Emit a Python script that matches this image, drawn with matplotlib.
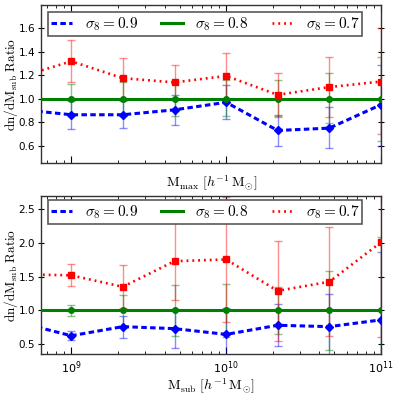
import numpy as np
import matplotlib
matplotlib.use("Agg")
import matplotlib.pyplot as plt
from matplotlib.ticker import LogLocator, NullFormatter, FixedLocator

plt.rcParams['mathtext.fontset'] = 'cm'
plt.rcParams['font.family'] = 'DejaVu Sans'

# mass bins [h^-1 Msun]
mass = [4.64e8, 1e9, 2.15e9, 4.64e9, 1e10, 2.15e10, 4.64e10, 1e11]

# ---- top panel: Mmax ----
top_s09 = [0.91, 0.864, 0.864, 0.906, 0.97, 0.73, 0.75, 0.95]
top_s09_lo = [0.80, 0.745, 0.75, 0.776, 0.83, 0.60, 0.58, 0.60]
top_s09_hi = [1.02, 0.98, 0.98, 1.034, 1.12, 0.86, 0.926, 1.29]

top_s08 = [1.0, 1.0, 1.0, 1.0, 1.0, 1.0, 1.0, 1.0]
top_s08_lo = [0.88, 0.87, 0.855, 0.855, 0.85, 0.85, 0.79, 0.64]
top_s08_hi = [1.12, 1.13, 1.145, 1.145, 1.16, 1.16, 1.22, 1.36]

top_s07 = [1.185, 1.32, 1.176, 1.14, 1.195, 1.034, 1.10, 1.147]
top_s07_lo = [1.02, 1.14, 1.0, 0.99, 1.0, 0.845, 0.845, 0.70]
top_s07_hi = [1.35, 1.50, 1.345, 1.29, 1.39, 1.22, 1.355, 1.60]

# ---- bottom panel: Msub ----
bot_s09 = [0.82, 0.625, 0.76, 0.73, 0.645, 0.78, 0.76, 0.86]
bot_s09_lo = [0.70, 0.555, 0.595, 0.44, 0.25, 0.47, 0.25, -0.2]
bot_s09_hi = [0.95, 0.70, 0.915, 1.015, 1.04, 1.10, 1.25, 1.87]

bot_s08 = [1.0, 1.0, 1.0, 1.0, 1.0, 1.0, 1.0, 1.0]
bot_s08_lo = [0.93, 0.92, 0.77, 0.625, 0.60, 0.655, 0.42, -0.1]
bot_s08_hi = [1.07, 1.08, 1.23, 1.375, 1.395, 1.345, 1.58, 2.09]

bot_s07 = [1.535, 1.52, 1.35, 1.73, 1.755, 1.29, 1.425, 2.01]
bot_s07_lo = [1.38, 1.36, 1.03, 1.15, 0.83, 0.54, 0.62, 0.60]
bot_s07_hi = [1.70, 1.69, 1.67, 2.80, 2.68, 2.03, 2.24, 3.40]

labels = [r'$\sigma_8 = 0.9$', r'$\sigma_8 = 0.8$', r'$\sigma_8 = 0.7$']
colors = ['blue', 'green', 'red']
markers = ['D', 'o', 's']
msizes = [4.5, 4, 4.5]
lstyles = [(0, (1.8, 1.1)), '-', (0, (0.7, 1.5))]
lwidths = [2.2, 2.2, 1.9]

fig = plt.figure(figsize=(3.99, 3.96), dpi=100)
ax1 = fig.add_axes([0.1035, 0.5876, 0.8514, 0.3998])
ax2 = fig.add_axes([0.1035, 0.1053, 0.8514, 0.4005])

def draw(ax, series):
    handles = []
    for (y, lo, hi), lab, c, m, ms, ls, lw in zip(series, labels, colors, markers,
                                                  msizes, lstyles, lwidths):
        y = np.array(y); lo = np.array(lo); hi = np.array(hi)
        ax.errorbar(mass, y, yerr=[y - lo, hi - y], fmt='none', ecolor=c,
                    elinewidth=1.0, capsize=3, capthick=1.0, alpha=0.45, zorder=2)
        ln, = ax.plot(mass, y, linestyle=ls, color=c, lw=lw, marker=m, ms=ms,
                      mec=c, mfc=c, label=lab, zorder=3)
        handles.append(ln)
    return handles

h1 = draw(ax1, [(top_s09, top_s09_lo, top_s09_hi),
                (top_s08, top_s08_lo, top_s08_hi),
                (top_s07, top_s07_lo, top_s07_hi)])
h2 = draw(ax2, [(bot_s09, bot_s09_lo, bot_s09_hi),
                (bot_s08, bot_s08_lo, bot_s08_hi),
                (bot_s07, bot_s07_lo, bot_s07_hi)])

for ax, handles, ytop in ((ax1, h1, 0.958), (ax2, h2, 0.972)):
    ax.set_xscale('log')
    ax.set_xlim(6.4e8, 1e11)
    ax.xaxis.set_major_locator(LogLocator(base=10, numticks=10))
    ax.xaxis.set_minor_locator(LogLocator(base=10, subs=np.arange(2, 10), numticks=20))
    ax.xaxis.set_minor_formatter(NullFormatter())
    ax.tick_params(axis='x', which='both', direction='in', top=True, bottom=True, labelsize=8)
    ax.tick_params(axis='x', which='major', length=5)
    ax.tick_params(axis='x', which='minor', length=2.5)
    ax.tick_params(axis='y', which='both', direction='inout', left=True, right=True,
                   length=5, labelsize=7.5, pad=2)
    for sp in ax.spines.values():
        sp.set_linewidth(1.0)
        sp.set_color('0.2')
    ax.set_ylabel(r'$\mathrm{dn/dM_{sub}\ Ratio}$', fontsize=9.5)
    ax.yaxis.set_label_coords(-0.063, 0.5)
    leg = ax.legend(handles=handles, ncol=3, loc='upper center',
                    bbox_to_anchor=(0.482, ytop), fontsize=11, frameon=True,
                    fancybox=False, framealpha=1, edgecolor='0.35',
                    handlelength=1.4, handletextpad=0.8, columnspacing=1.55,
                    borderpad=0.22, borderaxespad=0.0, numpoints=1)
    leg.get_frame().set_linewidth(1.2)
    for lh in leg.get_lines():
        lh.set_marker('')

ax1.set_ylim(0.45, 1.8)
ax1.yaxis.set_major_locator(FixedLocator([0.6, 0.8, 1.0, 1.2, 1.4, 1.6]))
ax1.set_yticklabels(['0.6', '0.8', '1.0', '1.2', '1.4', '1.6'])
ax1.tick_params(axis='x', labelbottom=False)
ax1.set_xlabel(r'$\mathrm{M_{max}\ [}h^{-1}\,\mathrm{M_{\odot}]}$', fontsize=10, labelpad=4)

ax2.set_ylim(0.35, 2.7)
ax2.yaxis.set_major_locator(FixedLocator([0.5, 1.0, 1.5, 2.0, 2.5]))
ax2.set_yticklabels(['0.5', '1.0', '1.5', '2.0', '2.5'])
ax2.set_xlabel(r'$\mathrm{M_{sub}\ [}h^{-1}\,\mathrm{M_{\odot}]}$', fontsize=10, labelpad=1)

fig.savefig('out.png', dpi=100, facecolor='white')
